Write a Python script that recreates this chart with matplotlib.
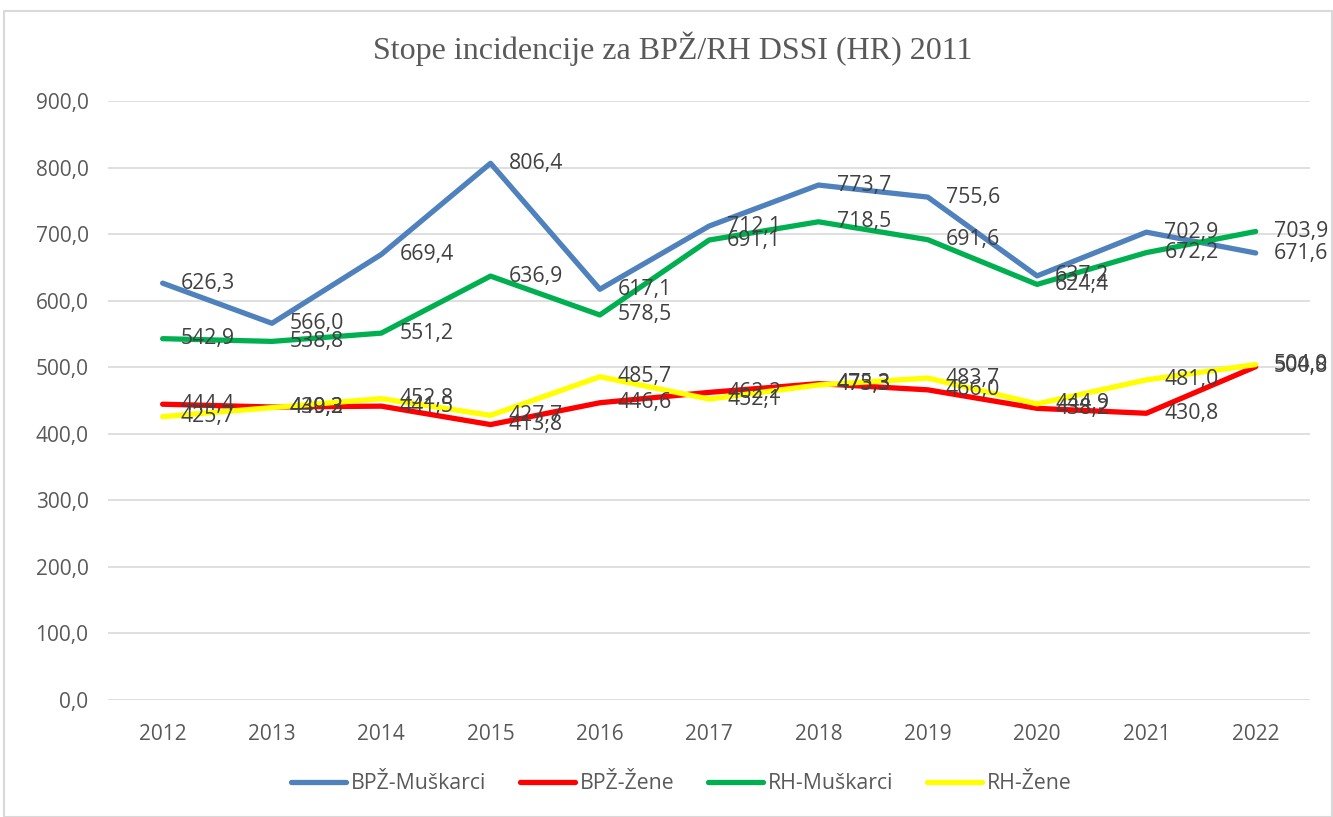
import matplotlib
matplotlib.use("Agg")
import matplotlib.pyplot as plt
from matplotlib.patches import Rectangle

years = ["2012", "2013", "2014", "2015", "2016", "2017", "2018", "2019", "2020", "2021", "2022"]
bpz_muskarci = [626.3, 566.0, 669.4, 806.4, 617.1, 712.1, 773.7, 755.6, 637.2, 702.9, 671.6]
bpz_zene = [444.4, 440.2, 441.5, 413.8, 446.6, 462.2, 475.3, 466.0, 438.2, 430.8, 500.8]
rh_muskarci = [542.9, 538.8, 551.2, 636.9, 578.5, 691.1, 718.5, 691.6, 624.4, 672.2, 703.9]
rh_zene = [425.7, 439.3, 452.8, 427.7, 485.7, 452.1, 473.3, 483.7, 444.9, 481.0, 504.0]

series = [
    ("BPŽ-Muškarci", bpz_muskarci, "#4F81BD"),
    ("BPŽ-Žene", bpz_zene, "#FF0000"),
    ("RH-Muškarci", rh_muskarci, "#00B050"),
    ("RH-Žene", rh_zene, "#FFFF00"),
]


def fmt(v):
    return f"{v:.1f}".replace(".", ",")


def main():
    fig = plt.figure(figsize=(13.33, 8.17), dpi=100)
    ax = fig.add_axes([0.081, 0.1432, 0.902, 0.7332])

    x = list(range(len(years)))
    for name, vals, col in series:
        ax.plot(x, vals, color=col, lw=3.8, label=name, solid_capstyle="round", zorder=3)

    for name, vals, col in series:
        for xi, v in zip(x, vals):
            ax.annotate(fmt(v), (xi, v), xytext=(13, 0), textcoords="offset points",
                        ha="left", va="center", fontsize=15.3, color="#404040",
                        family="Open Sans", zorder=5)

    ax.set_xlim(-0.5, len(years) - 0.5)
    ax.set_ylim(0, 900)
    ax.set_yticks(range(0, 901, 100))
    ax.set_yticklabels([fmt(t) for t in range(0, 901, 100)])
    ax.set_xticks(x)
    ax.set_xticklabels(years)
    ax.yaxis.grid(True, color="#D9D9D9", lw=1.2)
    ax.set_axisbelow(True)
    for s in ax.spines.values():
        s.set_visible(False)
    ax.tick_params(axis="y", length=0, labelsize=15, colors="#595959", pad=14)
    ax.tick_params(axis="x", length=0, labelsize=15, colors="#595959", pad=17)
    for lbl in ax.get_xticklabels() + ax.get_yticklabels():
        lbl.set_family("Open Sans")

    fig.text(0.505, 0.94, "Stope incidencije za BPŽ/RH DSSI (HR) 2011", ha="center", va="center",
             fontsize=23, color="#595959", family="Liberation Serif")

    leg = fig.legend(loc="center", bbox_to_anchor=(0.511, 0.041), ncol=4, frameon=False,
                     handlelength=2.6, columnspacing=1.6, handletextpad=0.2,
                     prop={"family": "Open Sans", "size": 15.3})
    for t in leg.get_texts():
        t.set_color("#595959")

    fig.patches.append(Rectangle((0.003, 0.0), 0.996, 0.987, transform=fig.transFigure,
                                 fill=False, edgecolor="#D9D9D9", lw=1.5))

    fig.savefig("out.png", dpi=100, facecolor="white")


if __name__ == "__main__":
    main()
